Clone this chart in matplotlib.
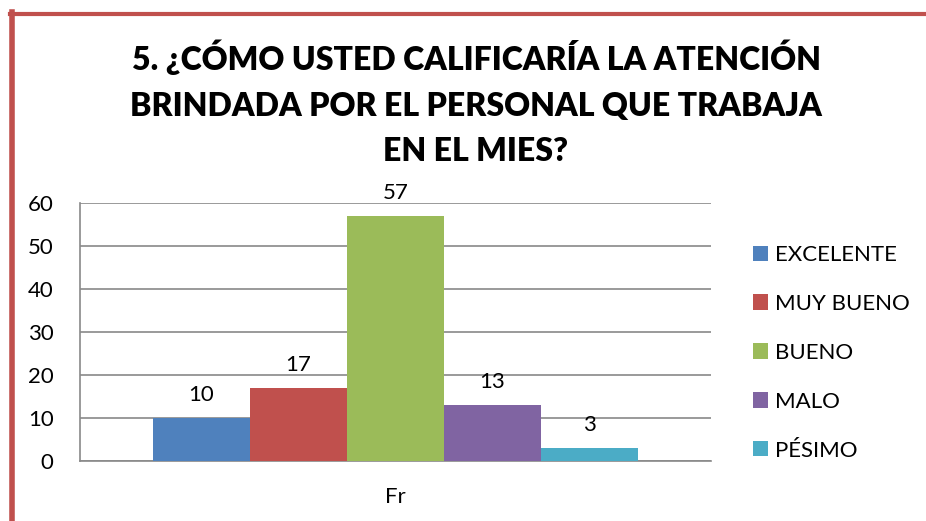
import matplotlib
matplotlib.use("Agg")
import matplotlib.pyplot as plt
from matplotlib.lines import Line2D

categories = ["EXCELENTE", "MUY BUENO", "BUENO", "MALO", "PÉSIMO"]
values = [10, 17, 57, 13, 3]
colors = ["#4F81BD", "#C0504D", "#9BBB59", "#8064A2", "#4BACC6"]
xlabel = "Fr"
yticks = [0, 10, 20, 30, 40, 50, 60]
title = "5. ¿CÓMO USTED CALIFICARÍA LA ATENCIÓN\nBRINDADA POR EL PERSONAL QUE TRABAJA\nEN EL MIES?"

W, H = 926, 521
fig = plt.figure(figsize=(W / 100, H / 100), dpi=100)
plt.rcParams['font.family'] = ['Lato', 'DejaVu Sans']

# border
fig.add_artist(Line2D([11.5 / W, 11.5 / W], [0, 1 - 12 / H], color="#C0504D", lw=4.0, transform=fig.transFigure))
fig.add_artist(Line2D([9.5 / W, 1], [1 - 13.5 / H, 1 - 13.5 / H], color="#C0504D", lw=3.0, transform=fig.transFigure))

ax = fig.add_axes([80 / W, 1 - 461 / H, (711 - 80) / W, (461 - 203) / H])
w = 97 / 631
for i, (c, v, col) in enumerate(zip(categories, values, colors)):
    x = (i - 2) * w
    ax.bar(x, v, width=w, color=col, label=c, zorder=3)
    ax.text(x, v + 3.0, str(v), ha="center", va="bottom", fontsize=16, color="#000000")

ax.set_xlim(-0.5, 0.5)
ax.set_ylim(0, 60)
ax.set_yticks(yticks)
ax.set_yticklabels([str(t) for t in yticks], fontsize=16)
ax.set_xticks([0])
ax.set_xticklabels([xlabel], fontsize=16)
ax.tick_params(axis="y", length=0, pad=19)
ax.tick_params(axis="x", length=0, pad=19)
ax.grid(axis="y", color="#898989", lw=1.2, zorder=0)
for s in ["top", "right"]:
    ax.spines[s].set_visible(False)
for s in ["left", "bottom"]:
    ax.spines[s].set_color("#898989")
    ax.spines[s].set_linewidth(1.2)

leg = fig.legend(loc="upper left", bbox_to_anchor=(753 / W, 1 - 245 / H), frameon=False,
                 fontsize=16, handlelength=0.68, handleheight=0.68, handletextpad=0.32,
                 labelspacing=1.30, borderaxespad=0, borderpad=0)

fig.text(476 / W, 1 - 103 / H, title, ha="center", va="center", fontsize=23,
         fontweight="heavy", linespacing=1.68)

fig.savefig("out.png", dpi=100)
